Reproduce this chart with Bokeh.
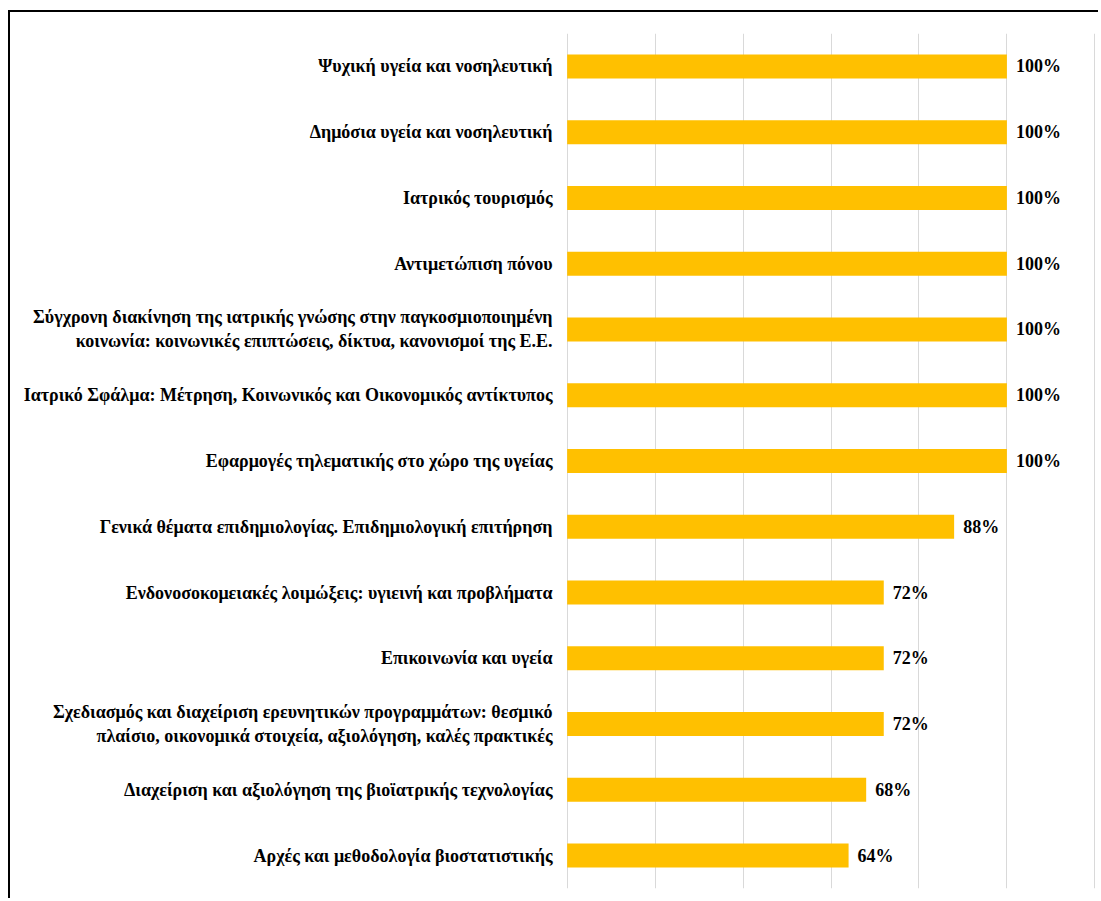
from bokeh.plotting import figure
from bokeh.models import Range1d, FixedTicker, ColumnDataSource
from bokeh.core.properties import value
from bokeh.embed import file_html
from bokeh.resources import INLINE

categories = [
    "Ψυχική υγεία και νοσηλευτική",
    "Δημόσια υγεία και νοσηλευτική",
    "Ιατρικός τουρισμός",
    "Αντιμετώπιση πόνου",
    "Σύγχρονη διακίνηση της ιατρικής γνώσης στην παγκοσμιοποιημένη\nκοινωνία: κοινωνικές επιπτώσεις, δίκτυα, κανονισμοί της Ε.Ε.",
    "Ιατρικό Σφάλμα: Μέτρηση, Κοινωνικός και Οικονομικός αντίκτυπος",
    "Εφαρμογές τηλεματικής στο χώρο της υγείας",
    "Γενικά θέματα επιδημιολογίας. Επιδημιολογική επιτήρηση",
    "Ενδονοσοκομειακές λοιμώξεις: υγιεινή και προβλήματα",
    "Επικοινωνία και υγεία",
    "Σχεδιασμός και διαχείριση ερευνητικών προγραμμάτων: θεσμικό\nπλαίσιο, οικονομικά στοιχεία, αξιολόγηση, καλές πρακτικές",
    "Διαχείριση και αξιολόγηση της βιοϊατρικής τεχνολογίας",
    "Αρχές και μεθοδολογία βιοστατιστικής",
]
values = [100, 100, 100, 100, 100, 100, 100, 88, 72, 72, 72, 68, 64]
x_ticks = [0, 20, 40, 60, 80, 100, 120]

labels = [f"{v}%" for v in values]
src = ColumnDataSource(dict(cat=categories, val=values, lab=labels))

p = figure(
    width=1090, height=888,
    y_range=list(reversed(categories)),
    x_range=Range1d(-0.15, 120.15),
    output_backend="svg", toolbar_location=None,
    min_border_left=556, min_border_right=5,
    min_border_top=21, min_border_bottom=12,
)
p.styles = {
    "margin-left": "8px", "margin-top": "10px",
    "border-left": "2px solid black", "border-top": "2px solid black",
}
p.outline_line_color = None
p.xaxis.visible = False
p.xaxis.ticker = FixedTicker(ticks=x_ticks)
p.xgrid.ticker = FixedTicker(ticks=x_ticks)
p.xgrid.grid_line_color = "#d9d9d9"
p.ygrid.grid_line_color = None

p.hbar(y="cat", right="val", left=0, height=0.365, source=src,
       fill_color="#FFC000", line_color=None)
p.text(x="val", y="cat", text="lab", source=src, x_offset=9,
       text_baseline="middle", text_align="left",
       text_font=value("Liberation Serif"), text_font_style="bold",
       text_font_size="18px", text_color="black")

p.yaxis.axis_line_color = None
p.yaxis.major_tick_line_color = None
p.yaxis.minor_tick_line_color = None
p.yaxis.major_label_standoff = 8
p.yaxis.major_label_text_font = "Liberation Serif"
p.yaxis.major_label_text_font_style = "bold"
p.yaxis.major_label_text_font_size = "18px"
p.yaxis.major_label_text_color = "black"

open("out.html", "w").write(file_html(p, INLINE))
